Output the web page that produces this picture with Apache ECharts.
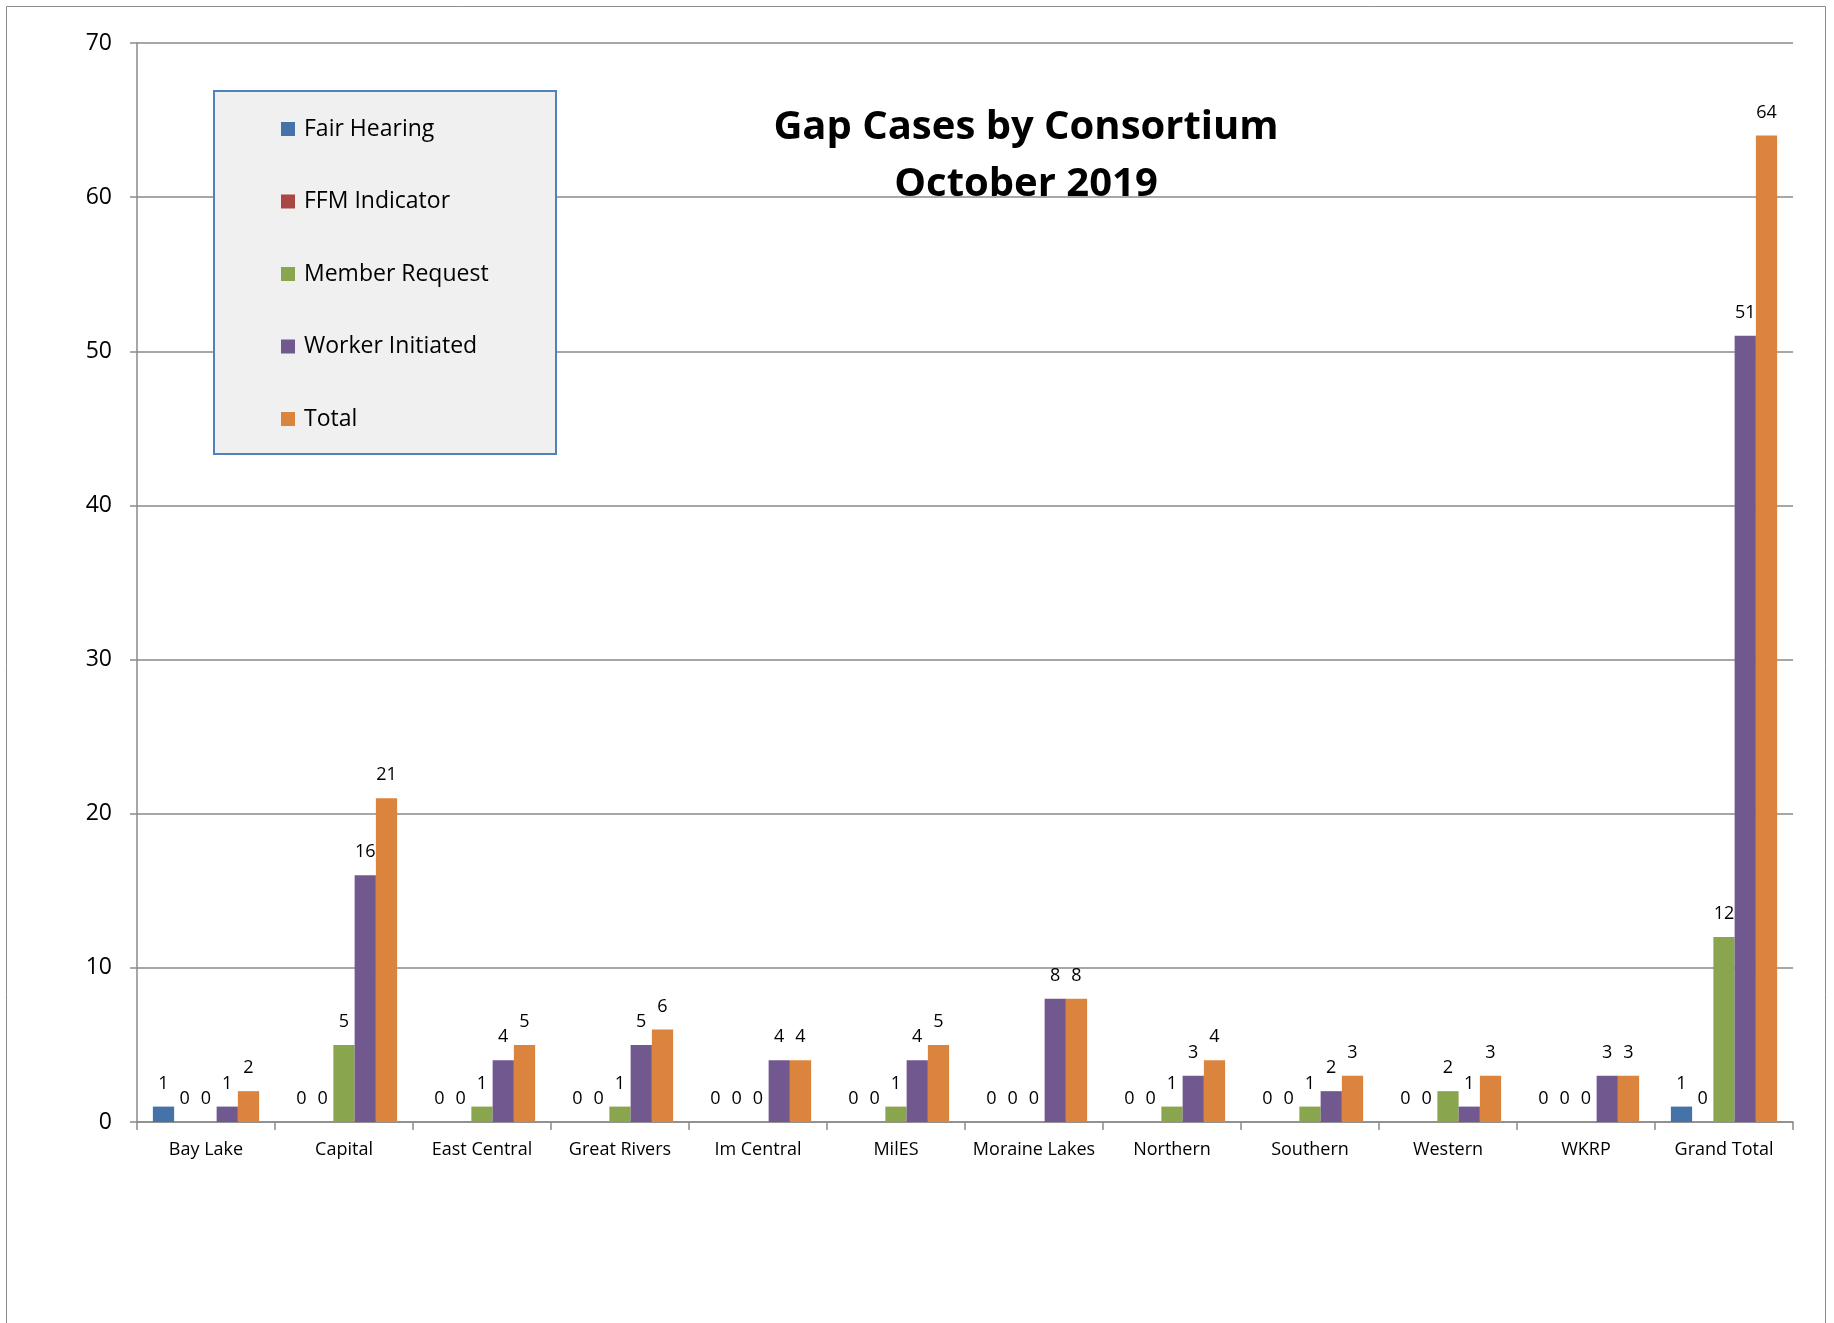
<!DOCTYPE html>
<html>
<head>
<meta charset="utf-8">
<script src="https://cdn.jsdelivr.net/npm/echarts@6/dist/echarts.min.js"></script>
<style>
  html, body { margin: 0; padding: 0; background: #ffffff; }
  #chart { width: 1834px; height: 1323px; }
</style>
</head>
<body>
<div id="chart"></div>
<script>
// values
const categories = ['Bay Lake', 'Capital', 'East Central', 'Great Rivers', 'Im Central', 'MilES',
    'Moraine Lakes', 'Northern', 'Southern', 'Western', 'WKRP', 'Grand Total'];
const fairHearing     = [1, 0, 0, 0, 0, 0, 0, 0, 0, 0, 0, 1];
const ffmIndicator    = [0, 0, 0, 0, 0, 0, 0, 0, 0, 0, 0, 0];
const memberRequest   = [0, 5, 1, 1, 0, 1, 0, 1, 1, 2, 0, 12];
const workerInitiated = [1, 16, 4, 5, 4, 4, 8, 3, 2, 1, 3, 51];
const total           = [2, 21, 5, 6, 4, 5, 8, 4, 3, 3, 3, 64];
const seriesNames = ['Fair Hearing', 'FFM Indicator', 'Member Request', 'Worker Initiated', 'Total'];
const seriesColors = ['#4572a7', '#aa4643', '#89a54e', '#71588f', '#db843d'];
const yMin = 0, yMax = 70, yStep = 10;

const font = '"Open Sans", "Noto Sans", sans-serif';
const gridColor = '#8a8a8a';

const chart = echarts.init(document.getElementById('chart'));

const seriesData = [fairHearing, ffmIndicator, memberRequest, workerInitiated, total];

const option = {
    backgroundColor: '#ffffff',
    animation: false,
    title: {
        text: 'Gap Cases by Consortium\nOctober 2019',
        left: 1021,
        top: 94,
        textAlign: 'center',
        textStyle: {
            fontFamily: font,
            fontWeight: 'bold',
            fontSize: 40,
            lineHeight: 57,
            color: '#000000'
        },
        z: 12
    },
    graphic: [
        {
            type: 'rect',
            z: 1,
            silent: true,
            shape: { x: 6.5, y: 6.5, width: 1819, height: 1400 },
            style: { fill: 'none', stroke: '#8c8c8c', lineWidth: 1 }
        },
        {
            type: 'rect',
            z: 20,
            silent: true,
            shape: { x: 214, y: 91, width: 342, height: 363 },
            style: { fill: '#f0f0f0', stroke: '#4f81bd', lineWidth: 2 }
        }
    ],
    legend: {
        orient: 'vertical',
        left: 281,
        top: 117,
        padding: 0,
        itemGap: 48.5,
        itemWidth: 14,
        itemHeight: 14,
        icon: 'rect',
        z: 30,
        data: seriesNames,
        textStyle: {
            fontFamily: font,
            fontSize: 23,
            lineHeight: 24,
            padding: [0, 0, 0, 4],
            color: '#000000'
        }
    },
    grid: {
        left: 137,
        right: 41,
        top: 43,
        bottom: 201
    },
    xAxis: {
        type: 'category',
        data: categories,
        axisLine: { lineStyle: { color: gridColor, width: 1.5 } },
        axisTick: { show: true, length: 8, lineStyle: { color: gridColor, width: 1.5 } },
        axisLabel: {
            interval: 0,
            margin: 19,
            fontFamily: font,
            fontSize: 18,
            color: '#000000'
        }
    },
    yAxis: {
        type: 'value',
        min: yMin,
        max: yMax,
        interval: yStep,
        axisLine: { show: true, lineStyle: { color: gridColor, width: 1.5 } },
        axisTick: { show: true, length: 7, lineStyle: { color: gridColor, width: 1.5 } },
        axisLabel: {
            margin: 25,
            fontFamily: font,
            fontSize: 23,
            color: '#000000'
        },
        splitLine: { lineStyle: { color: gridColor, width: 1.5 } }
    },
    series: seriesNames.map((name, i) => ({
        name: name,
        type: 'bar',
        data: seriesData[i],
        barGap: '0%',
        barCategoryGap: '23%',
        itemStyle: { color: seriesColors[i] },
        label: {
            show: true,
            position: 'top',
            distance: 14,
            fontFamily: font,
            fontSize: 18,
            color: '#000000'
        }
    }))
};

chart.setOption(option);
</script>
</body>
</html>
